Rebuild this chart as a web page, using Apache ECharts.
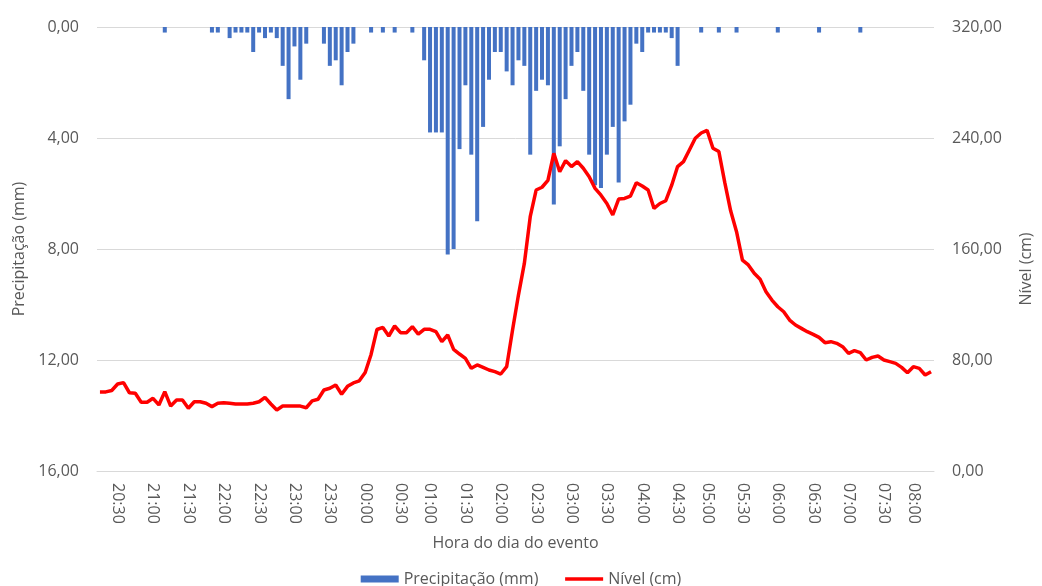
<!DOCTYPE html>
<html>
<head>
<meta charset="utf-8">
<title>Precipitação e Nível</title>
<script src="https://cdn.jsdelivr.net/npm/echarts@6/dist/echarts.min.js"></script>
<style>
  html, body { margin: 0; padding: 0; background: #fff; }
  #chart { width: 1042px; height: 586px; }
</style>
</head>
<body>
<div id="chart"></div>
<script>
// horários das leituras (5 em 5 min, com algumas falhas)
const horas = [
  '20:15','20:20','20:25','20:30','20:35','20:40','20:45','20:50','20:55','21:00',
  '21:05','21:10','21:15','21:20','21:25','21:30','21:35','21:40','21:45','21:50',
  '21:55','22:00','22:05','22:10','22:15','22:20','22:25','22:30','22:35','22:40',
  '22:45','22:50','22:55','23:00','23:05','23:10','23:15','23:20','23:25','23:30',
  '23:35','23:40','23:45','23:50','23:55','00:00','00:05','00:10','00:15','00:20',
  '00:25','00:30','00:35','00:40','00:45','00:50','01:00','01:05','01:10','01:15',
  '01:20','01:25','01:30','01:35','01:40','01:45','01:50','01:55','02:00','02:05',
  '02:10','02:15','02:20','02:25','02:30','02:35','02:40','02:45','02:50','02:55',
  '03:00','03:05','03:10','03:15','03:20','03:25','03:30','03:35','03:40','03:45',
  '03:50','03:55','04:00','04:05','04:10','04:15','04:20','04:25','04:30','04:35',
  '04:40','04:45','04:50','05:00','05:05','05:10','05:15','05:20','05:25','05:30',
  '05:35','05:40','05:45','05:50','05:55','06:00','06:05','06:10','06:15','06:20',
  '06:25','06:30','06:35','06:40','06:45','06:50','06:55','07:00','07:05','07:10',
  '07:15','07:20','07:25','07:30','07:35','07:40','07:45','07:50','08:00','08:05',
  '08:10','08:15'
];

// precipitação (mm)
const precipitacao = [
  0,0,0,0,0,0,0,0,0,0,
  0,0.2,0,0,0,0,0,0,0,0.2,
  0.2,0,0.4,0.2,0.2,0.2,0.9,0.2,0.4,0.2,
  0.4,1.4,2.6,0.7,1.9,0.6,0,0,0.6,1.4,
  1.2,2.1,0.9,0.6,0,0,0.2,0,0.2,0,
  0.2,0,0,0.2,0,1.2,3.8,3.8,3.8,8.2,
  8.0,4.4,2.1,4.6,7.0,3.6,1.9,0.9,0.9,1.6,
  2.1,1.2,1.4,4.6,2.3,1.9,2.1,6.4,4.3,2.6,
  1.4,0.9,2.3,4.6,5.7,5.8,4.6,3.6,5.6,3.4,
  2.8,0.6,0.9,0.2,0.2,0.2,0.2,0.4,1.4,0,
  0,0,0.2,0,0,0.2,0,0,0.2,0,
  0,0,0,0,0,0.2,0,0,0,0,
  0,0,0.2,0,0,0,0,0,0,0.2,
  0,0,0,0,0,0,0,0,0,0,
  0,0
];

// nível (cm)
const nivel = [
  57,57,58,62.7,63.7,56.4,56,49.5,49.5,52.4,
  47.6,57.2,46.8,51.2,51.2,45.2,49.9,49.9,48.8,46.4,
  48.8,49.2,48.8,48.3,48.3,48.3,48.8,49.9,53.1,48.3,
  44,46.8,46.8,46.8,46.8,45.6,50.5,51.7,58.4,59.6,
  62,55.3,61,63.5,65,71,84,102,103.5,97.3,
  104.5,99.7,99.7,104,98.7,102.1,102.1,100.4,93.2,98,
  87.7,84.3,81.2,74,76.4,74.7,72.8,71.6,69.9,75.2,
  101.6,126.8,149.6,183.3,202.5,204.5,209.5,229,215.7,223.7,
  219.4,223,218.2,212.1,203.7,198.8,192.8,184.5,196,196.4,
  198.1,207.8,205.4,202.5,189.3,192.8,194.8,206,219.4,223,
  231.4,239.8,243.6,245.5,232.6,230.2,208,187.5,172.5,152,
  148.5,142.5,138.2,129.2,123.2,118.4,114.8,108.8,105.2,102.8,
  100.4,98.5,96.3,92.5,93.2,92,89.6,84.8,86.7,85.3,
  80,81.9,82.9,80,78.8,77.6,74.7,70.8,75.2,74,
  69.2,71.6
];

const fonte = '"Open Sans", "Noto Sans", sans-serif';
const cinza = '#595959';
const grade = '#d9d9d9';
const virgula = function (v) { return v.toFixed(2).replace('.', ','); };

var dom = document.getElementById('chart');
var myChart = echarts.init(dom, null, { renderer: 'canvas' });

var option = {
  backgroundColor: '#ffffff',
  textStyle: { fontFamily: fonte },
  grid: { left: 97, right: 102, top: 27, bottom: 115 },
  legend: {
    top: 566,
    left: 'center',
    itemWidth: 38,
    itemHeight: 7,
    itemGap: 25,
    textStyle: { color: cinza, fontSize: 16, fontFamily: fonte },
    data: [
      { name: 'Precipitação (mm)', icon: 'rect' },
      {
        name: 'Nível (cm)',
        // só a linha, sem o círculo
        itemStyle: { opacity: 0, color: 'rgba(0,0,0,0)', borderWidth: 0 },
        lineStyle: { width: 3.5, color: '#ff0000' }
      }
    ]
  },
  xAxis: {
    type: 'category',
    data: horas,
    name: 'Hora do dia do evento',
    nameLocation: 'middle',
    nameGap: 64,
    nameTextStyle: { color: cinza, fontSize: 16, fontFamily: fonte },
    axisLine: { onZero: false, lineStyle: { color: grade } },
    axisTick: { show: false },
    axisLabel: {
      rotate: -90,
      margin: 12,
      color: cinza,
      fontSize: 16,
      fontFamily: fonte,
      interval: function (i, v) {
        return v.slice(3) === '00' || v.slice(3) === '30';
      }
    },
    splitLine: { show: false }
  },
  yAxis: [
    {
      type: 'value',
      inverse: true,
      min: 0,
      max: 16,
      interval: 4,
      name: 'Precipitação (mm)',
      nameLocation: 'middle',
      nameRotate: 90,
      nameGap: 69,
      nameTextStyle: { color: cinza, fontSize: 16, fontFamily: fonte },
      axisLine: { show: false },
      axisTick: { show: false },
      axisLabel: { margin: 18, color: cinza, fontSize: 16, fontFamily: fonte, formatter: virgula },
      splitLine: { lineStyle: { color: grade, width: 1 } }
    },
    {
      type: 'value',
      min: 0,
      max: 320,
      interval: 80,
      name: 'Nível (cm)',
      nameLocation: 'middle',
      nameRotate: 90,
      nameGap: 84,
      nameTextStyle: { color: cinza, fontSize: 16, fontFamily: fonte, padding: [0, 40, 0, 0] },
      axisLine: { show: false },
      axisTick: { show: false },
      axisLabel: { margin: 18, color: cinza, fontSize: 16, fontFamily: fonte, formatter: virgula },
      splitLine: { show: false }
    }
  ],
  series: [
    {
      name: 'Precipitação (mm)',
      type: 'bar',
      yAxisIndex: 0,
      data: precipitacao,
      barWidth: '68%',
      itemStyle: { color: '#4472c4' },
      animation: false
    },
    {
      name: 'Nível (cm)',
      type: 'line',
      yAxisIndex: 1,
      data: nivel,
      symbol: 'none',
      lineStyle: { color: '#ff0000', width: 3.5 },
      itemStyle: { color: '#ff0000' },
      z: 3,
      animation: false
    }
  ]
};

if (option && typeof option === 'object') {
  myChart.setOption(option);
}

window.addEventListener('resize', myChart.resize);
</script>
</body>
</html>
